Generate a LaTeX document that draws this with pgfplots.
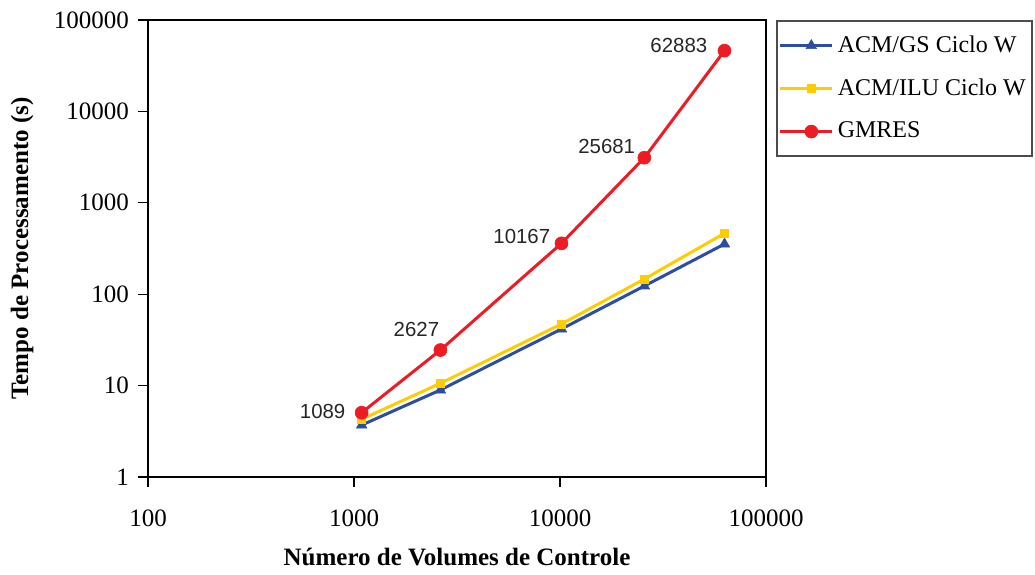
\documentclass[border=0pt]{standalone}
\usepackage{fontspec}
\setmainfont{Liberation Serif}
\newfontfamily\arialfont{Liberation Sans}
\usepackage{pgfplots}
\pgfplotsset{compat=1.18}
\definecolor{cblue}{RGB}{43,78,162}
\definecolor{cyellow}{RGB}{255,204,0}
\definecolor{cred}{RGB}{237,28,36}
\begin{document}
\begin{tikzpicture}
\begin{loglogaxis}[
  scale only axis, width=309pt, height=228.5pt,
  xmin=100, xmax=100000, ymin=1, ymax=100000,
  xtick={100,1000,10000,100000}, xticklabels={100,1000,10000,100000},
  ytick={1,10,100,1000,10000,100000}, yticklabels={1,10,100,1000,10000,100000},
  xminorticks=false, yminorticks=false,
  tick pos=left, tick align=outside, major tick length=5pt,
  tick style={black, line width=0.6pt},
  axis line style={line width=0.6pt},
  ticklabel style={font=\fontsize{12.5}{14}\selectfont},
  xticklabel style={yshift=-8pt},
  yticklabel style={xshift=-1pt},
  xlabel={Número de Volumes de Controle},
  ylabel={Tempo de Processamento (s)},
  label style={font=\fontsize{12.5}{14}\selectfont\bfseries},
  xlabel style={at={(axis description cs:0.5,0)}, anchor=center, yshift=-40pt},
  ylabel style={at={(axis description cs:0,0.5)}, anchor=center, yshift=63pt},
  legend style={at={(1,1)}, anchor=north west, xshift=5pt,
    draw=black!70, line width=0.8pt,
    font=\fontsize{12}{14}\selectfont, row sep=7.75pt,
    inner xsep=1pt, inner ysep=5.5pt},
  legend cell align=left,
  legend image code/.code={\path (0pt,0pt) -- (26pt,0pt);
    \draw[mark repeat=2,mark phase=2] plot coordinates {(5pt,0pt) (15.5pt,0pt) (26pt,0pt)};},
]
\addplot[cblue, line width=1.5pt, mark=triangle*, mark size=3pt, mark options={solid, line width=0.3pt}]
  table {
x y
1089 3.7
2627 8.95
10167 41.6
25681 123
62883 354
};
\addlegendentry{ACM/GS Ciclo W}
\addplot[cyellow, line width=1.5pt, mark=square*, mark size=2pt, mark options={solid, line width=0.3pt}]
  table {
x y
1089 4.28
2627 10.6
10167 47.2
25681 146.6
62883 464
};
\addlegendentry{ACM/ILU Ciclo W}
\addplot[cred, line width=1.5pt, mark=*, mark size=3.25pt, mark options={solid, line width=0.3pt},
  nodes near coords, point meta=explicit symbolic,
  visualization depends on={value \thisrow{dx} \as \dx},
  visualization depends on={value \thisrow{dy} \as \dy},
  every node near coord/.append style={anchor=east, inner sep=0pt,
    xshift=\dx pt, yshift=\dy pt, text=black!85,
    font=\arialfont\fontsize{10.2}{12}\selectfont}]
  table[meta=lab] {
x y lab dx dy
1089 5.05 1089 -8 0.5
2627 24.5 2627 -0.5 10.5
10167 360 10167 -5.5 3.3
25681 3115 25681 -4.5 5.5
62883 46150 62883 -8.5 2.8
};
\addlegendentry{GMRES}
\end{loglogaxis}
\pgfresetboundingbox
\path ([xshift=-74pt,yshift=-48.5pt]current axis.south west) rectangle ([xshift=134.5pt,yshift=10pt]current axis.north east);
\end{tikzpicture}
\end{document}
